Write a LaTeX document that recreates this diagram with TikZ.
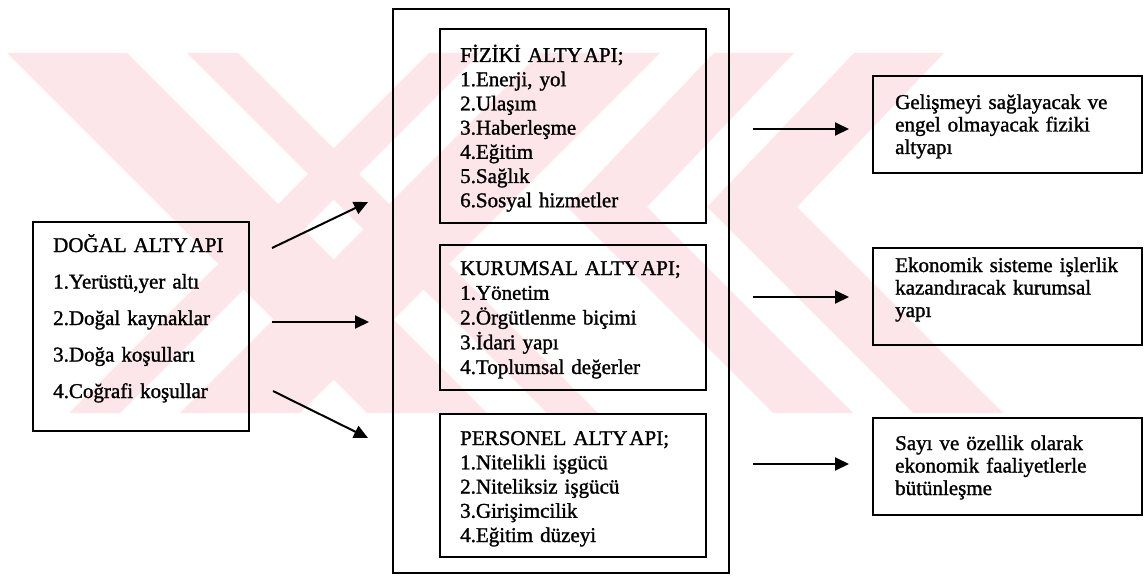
\documentclass[tikz,border=0pt]{standalone}
\usepackage{fontspec}
\setmainfont{Liberation Serif}[FakeBold=1.3]
\usetikzlibrary{arrows.meta}
\definecolor{wm}{RGB}{252,230,233}
\begin{document}
\begin{tikzpicture}[x=1pt,y=-1pt,
  box/.style={draw,line width=1.6pt,rectangle,anchor=north west,inner sep=0pt},
  txt/.style={anchor=base west,align=left,inner sep=0pt,text width=260pt},
  arr/.style={line width=2pt,-{Triangle[length=14pt,width=13pt]}}]
\useasboundingbox (0,0) rectangle (1144,583);
% watermark
\begin{scope}
\clip (7,53) rectangle (1110,413);
\fill[wm] (7,53) -- (127,53) -- (487,413) -- (367,413) -- cycle;
\fill[wm] (187,53) -- (238,53) -- (598,413) -- (547,413) -- cycle;
\fill[wm] (429,53) -- (480,53) -- (120,413) -- (69,413) -- cycle;
\fill[wm] (540,53) -- (660,53) -- (300,413) -- (180,413) -- cycle;
\fill[wm] (944,53) -- (797,207) -- (1003,413) -- (913,413) -- (707,207) -- (854,53) -- cycle;
\fill[wm] (794,53) -- (647,207) -- (853,413) -- (773,413) -- (567,207) -- (714,53) -- cycle;
\end{scope}
% outer frame
\node[box,minimum width=336pt,minimum height=564pt] (outer) at (392,8) {};
% boxes
\node[box,minimum width=216pt,minimum height=209pt] (dogal) at (32,221) {};
\node[box,minimum width=266pt,minimum height=194pt] (fiz) at (439,28) {};
\node[box,minimum width=266pt,minimum height=145pt] (kur) at (439,244) {};
\node[box,minimum width=266pt,minimum height=143pt] (per) at (439,413) {};
\node[box,minimum width=269pt,minimum height=97pt] (r1) at (872,75) {};
\node[box,minimum width=269pt,minimum height=97pt] (r2) at (872,247) {};
\node[box,minimum width=269pt,minimum height=97pt] (r3) at (872,417) {};
% texts
\node[txt,font=\fontsize{21}{36.5}\selectfont] (dogalt) at (53,252)
  {DOĞAL ALTY\kern2pt API\\1.Yerüstü,yer altı\\2.Doğal kaynaklar\\3.Doğa koşulları\\4.Coğrafi koşullar};
\node[txt,font=\fontsize{21}{24.2}\selectfont] (fizt) at (460,62)
  {FİZİKİ ALTY\kern2pt API;\\1.Enerji, yol\\2.Ulaşım\\3.Haberleşme\\4.Eğitim\\5.Sağlık\\6.Sosyal hizmetler};
\node[txt,font=\fontsize{21}{24.75}\selectfont] (kurt) at (460,275)
  {KURUMSAL ALTY\kern2pt API;\\1.Yönetim\\2.Örgütlenme biçimi\\3.İdari yapı\\4.Toplumsal değerler};
\node[txt,font=\fontsize{21}{24.25}\selectfont] (pert) at (460,445)
  {PERSONEL ALTY\kern2pt API;\\1.Nitelikli işgücü\\2.Niteliksiz işgücü\\3.Girişimcilik\\4.Eğitim düzeyi};
\node[txt,font=\fontsize{21}{22.5}\selectfont] (r1t) at (895,109)
  {Gelişmeyi sağlayacak ve\\engel olmayacak fiziki\\altyapı};
\node[txt,font=\fontsize{21}{22.5}\selectfont] (r2t) at (895,272)
  {Ekonomik sisteme işlerlik\\kazandıracak kurumsal\\yapı};
\node[txt,font=\fontsize{21}{22.5}\selectfont] (r3t) at (895,450)
  {Sayı ve özellik olarak\\ekonomik faaliyetlerle\\bütünleşme};
% arrow end points
\coordinate (l1s) at (272,248); \coordinate (l1e) at (368,202);
\coordinate (l2s) at (272,322); \coordinate (l2e) at (369,322);
\coordinate (l3s) at (273,391); \coordinate (l3e) at (368,438);
\draw[arr] (l1s) -- (l1e);
\draw[arr] (l2s) -- (l2e);
\draw[arr] (l3s) -- (l3e);
\draw[arr,shorten <=23pt,shorten >=23pt] (outer.east |- 0,129) -- (r1.west |- 0,129);
\draw[arr,shorten <=23pt,shorten >=23pt] (outer.east |- 0,297) -- (r2.west |- 0,297);
\draw[arr,shorten <=23pt,shorten >=23pt] (outer.east |- 0,464) -- (r3.west |- 0,464);
\end{tikzpicture}
\end{document}
